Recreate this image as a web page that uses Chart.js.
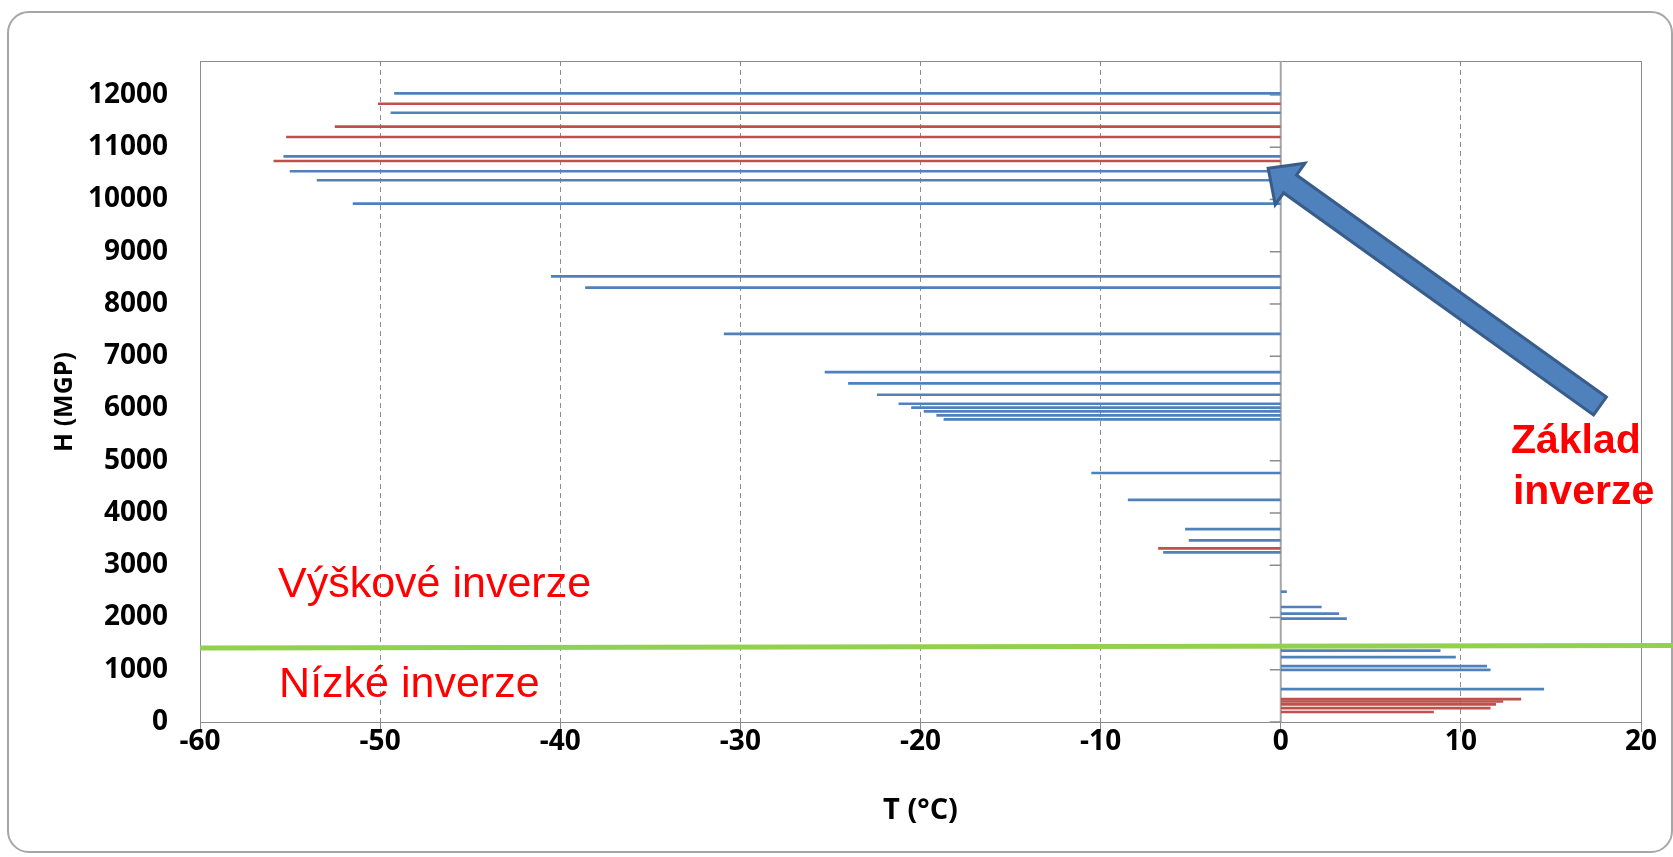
<!DOCTYPE html>
<html>
<head>
<meta charset="utf-8">
<script src="https://cdn.jsdelivr.net/npm/chart.js@4.4.1/dist/chart.umd.min.js"></script>
<style>
  html, body { margin: 0; padding: 0; background: #fff; }
  #frame {
    position: absolute; left: 7px; top: 11px; width: 1666px; height: 842px;
    box-sizing: border-box; border: 2px solid #a6a6a6; border-radius: 22px;
  }
  #wrap { position: absolute; left: 0; top: 0; width: 1673px; height: 857px; }
</style>
</head>
<body>
<div id="frame"></div>
<div id="wrap"><canvas id="chart" width="1673" height="857"></canvas></div>
<script>
// blue soundings: height (m) and temperature at that height (°C)
const blueH = [12030, 11660, 10826, 10540, 10368, 9922, 8528, 8312, 7428,
  6695, 6479, 6263, 6091, 6015, 5944, 5868, 5792, 4766, 4251, 3691, 3475, 3246,
  2494, 2201, 2074, 1979, 1367, 1241, 1069, 999, 630];
const blueT = [-49.2, -49.4, -55.35, -55.0, -53.5, -51.5, -40.5, -38.6, -30.9,
  -25.3, -24.0, -22.4, -21.2, -20.5, -19.8, -19.1, -18.7, -10.5, -8.47, -5.29, -5.09, -6.51,
  0.32, 2.25, 3.22, 3.65, 8.85, 9.70, 11.43, 11.63, 14.6];

// red soundings
const redH = [11832, 11393, 11195, 10737, 3322, 439, 393, 336, 267, 191];
const redT = [-50.1, -52.5, -55.2, -55.9, -6.79, 13.33, 12.33, 11.93, 11.63, 8.48];

// boundary between low and upper inversions (green line)
const boundaryT = [-60, 21.8];
const boundaryH = [1416, 1464];

// axis ticks
const tTicks = [-60, -50, -40, -30, -20, -10, 0, 10, 20];
const hTicks = [0, 1000, 2000, 3000, 4000, 5000, 6000, 7000, 8000, 9000, 10000, 11000, 12000];
const hMax = 12650;

// annotation anchors (T, H)
const arrowTail = [17.72, 6047];
const arrowTip = [-0.7, 10597];

const BLUE = '#4F81BD';
const RED = '#C0504D';
const GRID = '#8c8c8c';

const bars = [];
const barColors = [];
blueH.forEach((h, i) => { bars.push({ y: h, x: [0, blueT[i]] }); barColors.push(BLUE); });
redH.forEach((h, i) => { bars.push({ y: h, x: [0, redT[i]] }); barColors.push(RED); });

const boundary = boundaryT.map((t, i) => ({ x: t, y: boundaryH[i] }));

const tickFont = { family: 'Open Sans', size: 28, weight: 'bold' };

function drawArrow(ctx, x1, y1, x2, y2) {
    const dx = x2 - x1, dy = y2 - y1;
    const len = Math.hypot(dx, dy);
    const ux = dx / len, uy = dy / len;
    const px = -uy, py = ux;
    const shaft = 11, head = 25.5, headLen = 27;
    const nx = x2 - ux * headLen, ny = y2 - uy * headLen;
    ctx.beginPath();
    ctx.moveTo(x1 + px * shaft, y1 + py * shaft);
    ctx.lineTo(nx + px * shaft, ny + py * shaft);
    ctx.lineTo(nx + px * head, ny + py * head);
    ctx.lineTo(x2, y2);
    ctx.lineTo(nx - px * head, ny - py * head);
    ctx.lineTo(nx - px * shaft, ny - py * shaft);
    ctx.lineTo(x1 - px * shaft, y1 - py * shaft);
    ctx.closePath();
    ctx.fillStyle = '#4F81BD';
    ctx.fill();
    ctx.lineWidth = 3;
    ctx.strokeStyle = '#385D8A';
    ctx.lineJoin = 'miter';
    ctx.stroke();
}

const overlay = {
    id: 'overlay',
    beforeDatasetsDraw(chart) {
        const { ctx, chartArea: a, scales: { x, y } } = chart;
        ctx.save();
        // plot border
        ctx.strokeStyle = GRID;
        ctx.lineWidth = 1;
        ctx.strokeRect(Math.round(a.left) + 0.5, Math.round(a.top) + 0.5,
            Math.round(a.right - a.left), Math.round(a.bottom - a.top));
        // vertical axis crossing at T = 0
        const x0 = x.getPixelForValue(0);
        ctx.strokeStyle = '#a6a6a6';
        ctx.lineWidth = 2;
        ctx.beginPath();
        ctx.moveTo(x0, a.top);
        ctx.lineTo(x0, a.bottom);
        ctx.stroke();
        // tick marks on that axis
        ctx.strokeStyle = GRID;
        ctx.lineWidth = 1.5;
        hTicks.forEach(v => {
            const py = y.getPixelForValue(v);
            ctx.beginPath();
            ctx.moveTo(x0 - 11, py);
            ctx.lineTo(x0, py);
            ctx.stroke();
        });
        ctx.restore();
    },
    afterDatasetsDraw(chart) {
        const { ctx, chartArea: a, scales: { x, y } } = chart;
        ctx.save();
        drawArrow(ctx,
            x.getPixelForValue(arrowTail[0]), y.getPixelForValue(arrowTail[1]),
            x.getPixelForValue(arrowTip[0]), y.getPixelForValue(arrowTip[1]));

        ctx.fillStyle = '#FF0000';
        ctx.textAlign = 'left';
        ctx.textBaseline = 'alphabetic';
        ctx.font = '43px "Liberation Sans"';
        ctx.fillText('Výškové inverze', x.getPixelForValue(-55.67), y.getPixelForValue(2392));
        ctx.fillText('Nízké inverze', x.getPixelForValue(-55.61), y.getPixelForValue(478));
        ctx.font = 'bold 41px "Liberation Sans"';
        ctx.fillText('Základ', x.getPixelForValue(12.78), y.getPixelForValue(5148));
        ctx.fillText('inverze', x.getPixelForValue(12.89), y.getPixelForValue(4172));

        // axis titles
        ctx.fillStyle = '#000';
        ctx.textAlign = 'center';
        ctx.textBaseline = 'middle';
        ctx.font = 'bold 29px "Open Sans"';
        ctx.fillText('T (°C)', (a.left + a.right) / 2, a.bottom + 89);
        ctx.save();
        ctx.translate(65, 402);
        ctx.rotate(-Math.PI / 2);
        ctx.font = 'bold 25px "Open Sans"';
        ctx.fillText('H (MGP)', 0, 0);
        ctx.restore();
        ctx.restore();
    }
};

new Chart(document.getElementById('chart'), {
    type: 'bar',
    data: {
        datasets: [
            {
                type: 'line',
                data: boundary,
                borderColor: '#92D050',
                borderWidth: 5,
                pointRadius: 0,
                clip: false,
                order: 0
            },
            {
                type: 'bar',
                data: bars,
                backgroundColor: barColors,
                barThickness: 2,
                borderWidth: 0,
                order: 1
            }
        ]
    },
    options: {
        indexAxis: 'y',
        responsive: false,
        animation: false,
        layout: { padding: { top: 61, right: 32, left: 0, bottom: 0 } },
        plugins: { legend: { display: false }, tooltip: { enabled: false } },
        scales: {
            x: {
                type: 'linear',
                position: 'bottom',
                min: tTicks[0], max: tTicks[tTicks.length - 1],
                ticks: { font: tickFont, color: '#000', padding: -7, maxRotation: 0, autoSkip: false,
                    callback: v => String(v) },
                grid: { color: GRID, tickLength: 10, tickColor: GRID },
                border: { display: false, dash: [5, 4] },
                afterBuildTicks(s) { s.ticks = tTicks.map(v => ({ value: v })); },
                afterFit(s) { s.height = 135; }
            },
            y: {
                type: 'linear',
                position: 'left',
                min: 0, max: hMax,
                offset: false,
                ticks: { font: tickFont, color: '#000', padding: 32, autoSkip: false,
                    callback: v => String(v) },
                grid: { display: false, drawTicks: false },
                border: { display: false },
                afterBuildTicks(s) { s.ticks = hTicks.map(v => ({ value: v })); },
                afterFit(s) { s.width = 200; }
            }
        }
    },
    plugins: [overlay]
});
</script>
</body>
</html>
